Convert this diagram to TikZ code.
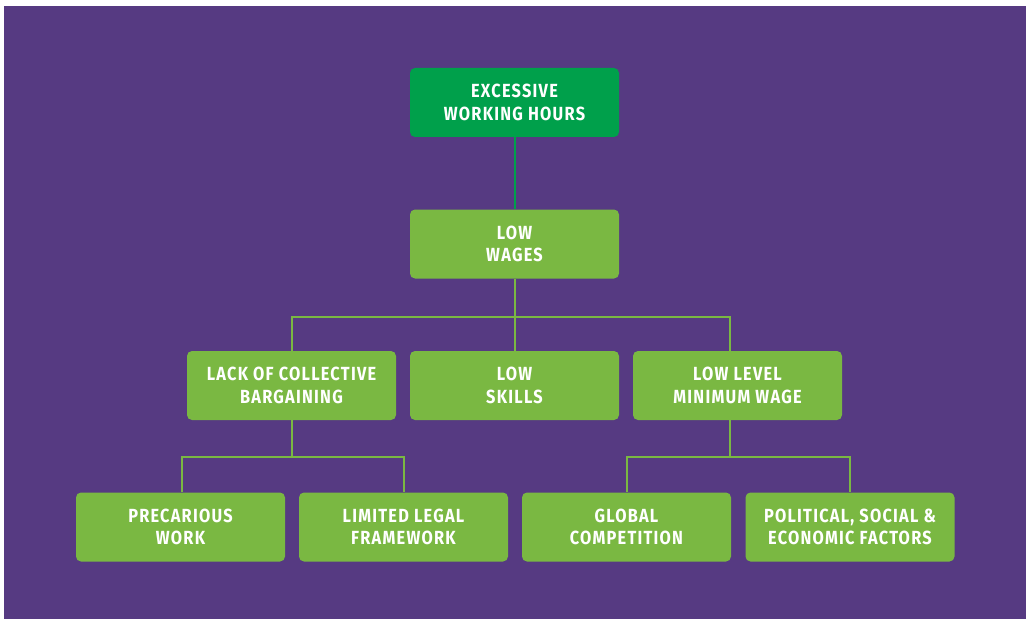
\documentclass[tikz,border=0pt]{standalone}
\usepackage{fontspec}
\setmainfont{Fira Sans}[FakeStretch=0.86,LetterSpace=6.5]
\definecolor{bgpurple}{RGB}{86,58,130}
\definecolor{dkgreen}{RGB}{0,160,75}
\definecolor{ltgreen}{RGB}{122,184,66}
\begin{document}
\begin{tikzpicture}[x=1pt,y=-1pt,
  box/.style={rounded corners=5pt, minimum width=209pt, minimum height=69pt, align=center,
    text=white, font=\fontsize{19}{22.5}\selectfont\bfseries, inner sep=0pt},
  lbox/.style={box, fill=ltgreen},
  dbox/.style={box, fill=dkgreen},
  conn/.style={draw=ltgreen, line width=2pt},
  dconn/.style={draw=dkgreen, line width=2pt}]
\useasboundingbox (0,0) rectangle (1026,623);
\fill[white] (0,0) rectangle (1026,623);
\fill[bgpurple] (4,6) rectangle (1026,619);
\node[dbox] (ewh) at (514.5,102.5) {EXCESSIVE\\WORKING HOURS};
\node[lbox] (lw) at (514.5,244) {LOW\\WAGES};
\node[lbox] (lcb) at (291.5,385.5) {LACK OF COLLECTIVE\\BARGAINING};
\node[lbox] (ls) at (514.5,385.5) {LOW\\SKILLS};
\node[lbox] (llm) at (737.5,385.5) {LOW LEVEL\\MINIMUM WAGE};
\node[lbox] (pw) at (180.5,527) {PRECARIOUS\\WORK};
\node[lbox] (llf) at (403.5,527) {LIMITED LEGAL\\FRAMEWORK};
\node[lbox] (gc) at (626.5,527) {GLOBAL\\COMPETITION};
\node[lbox] (pse) at (850,527) {POLITICAL, SOCIAL {\&}\\ECONOMIC FACTORS};
\coordinate (j1) at (514.5,317);
\coordinate (j2) at (291.5,457);
\coordinate (j3) at (730,457);
\draw[dconn] (ewh.south) -- (lw.north);
\draw[conn] (lw.south) -- (ls.north);
\draw[conn] (lcb.north) |- (j1) -| (llm.north -| j3);
\draw[conn] (lcb.south) -- (j2);
\draw[conn] (j2) -| (pw.north -| 182,0);
\draw[conn] (j2) -| (llf.north -| 404,0);
\draw[conn] (llm.south -| j3) -- (j3);
\draw[conn] (j3) -| (gc.north -| 627,0);
\draw[conn] (j3) -| (pse.north -| 850,0);
\end{tikzpicture}
\end{document}
